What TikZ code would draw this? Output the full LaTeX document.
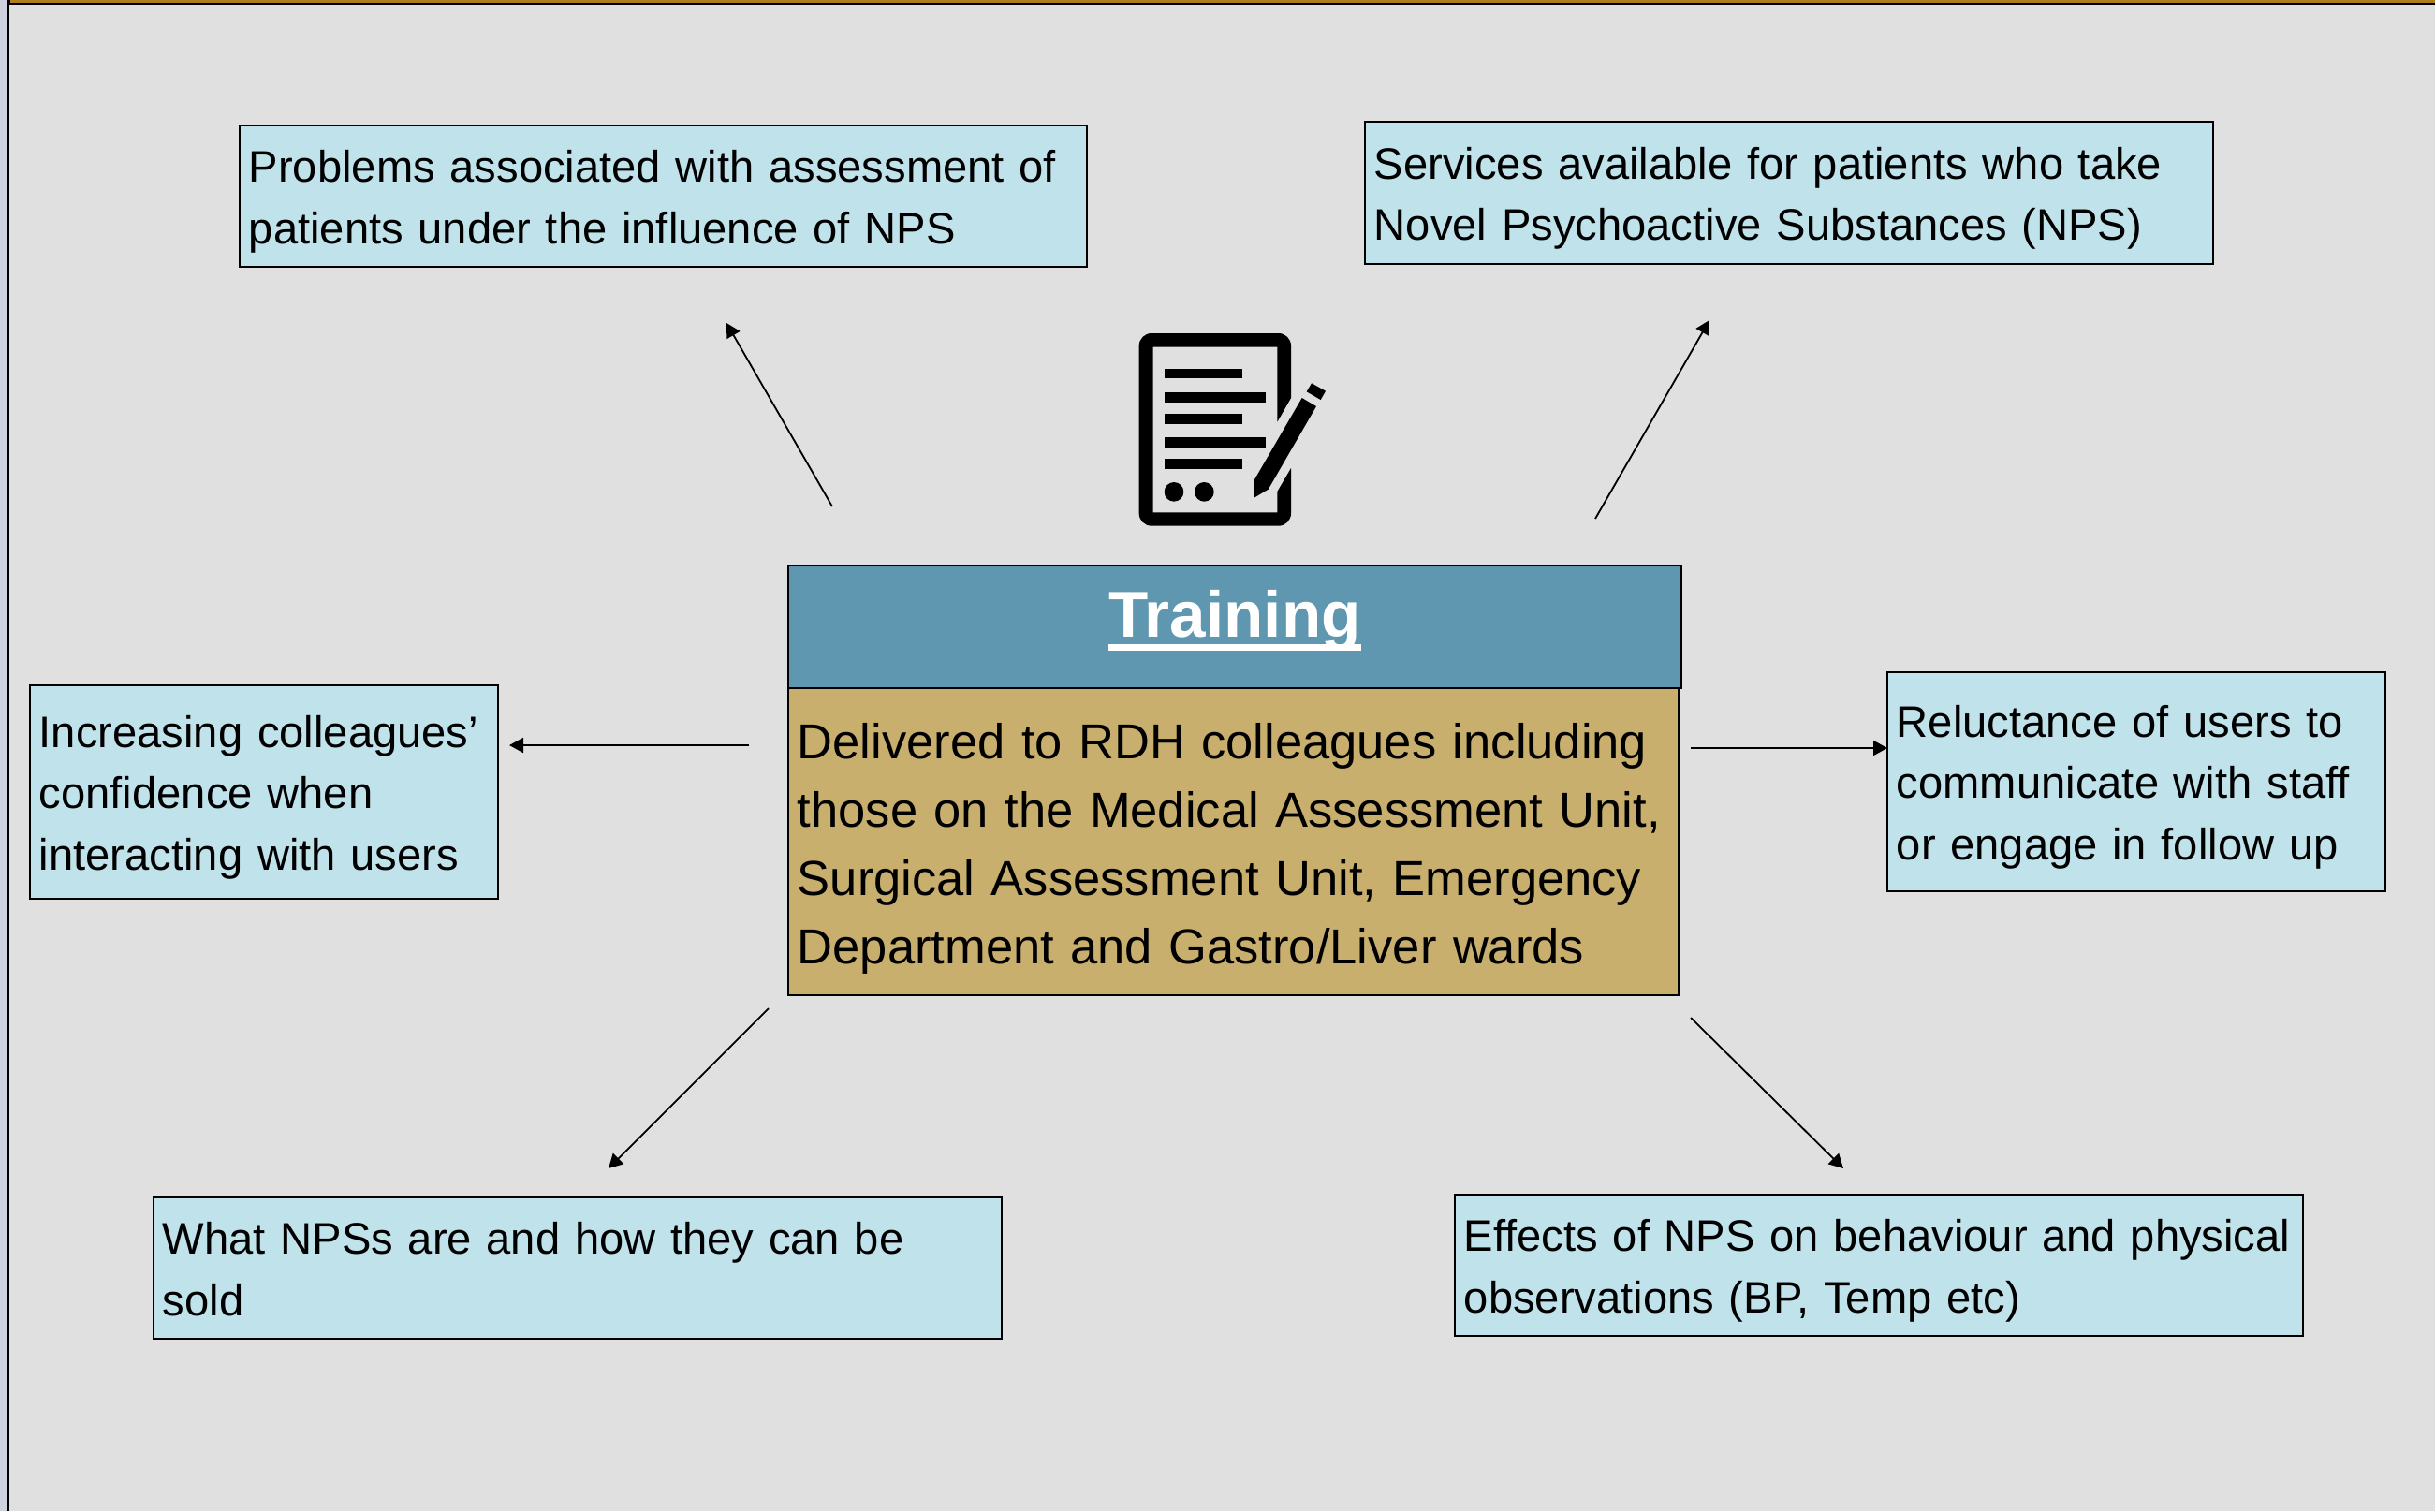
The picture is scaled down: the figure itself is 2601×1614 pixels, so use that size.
\documentclass[tikz,border=0pt]{standalone}
\usepackage{fontspec}
\setmainfont{Liberation Sans}
\usetikzlibrary{arrows.meta}
\definecolor{bgc}{HTML}{E0E0E0}
\definecolor{stripc}{HTML}{CDD2DE}
\definecolor{orangec}{HTML}{B07D1E}
\definecolor{boxc}{HTML}{C0E2EB}
\definecolor{headc}{HTML}{5E97AF}
\definecolor{bodyc}{HTML}{C8AF6E}
\newcommand{\thickul}[1]{\setbox0=\hbox{#1}\rlap{\copy0}\rule[-7.5pt]{\wd0}{3.5pt}}
\newcommand{\tfirst}{\rule{0pt}{23.2pt}}
\newcommand{\tlast}{\rule[-5.4pt]{0pt}{5.4pt}}
\newcommand{\bfirst}{\rule{0pt}{26.4pt}}
\newcommand{\blast}{\rule[-5.5pt]{0pt}{5.5pt}}
\tikzset{
  basebox/.style={draw=black,line width=1.45pt,anchor=north west,outer sep=0pt,inner xsep=4.9pt,inner ysep=0pt,align=left},
  topicbox/.style={basebox,fill=boxc,font=\fontsize{23.58}{32.75}\selectfont},
  bodybox/.style={basebox,fill=bodyc,font=\fontsize{26.25}{36.6}\selectfont},
  headbox/.style={basebox,fill=headc,text=white,align=center,font=\fontsize{34.6}{40}\selectfont\bfseries},
  arrowline/.style={draw=black,line width=0.9pt,-{Triangle[length=7.5pt,width=8pt]}},
  iconfill/.style={fill=black,draw=none}
}
\begin{document}
\begin{tikzpicture}[x=0.5pt,y=-0.5pt]
\useasboundingbox (0,0) rectangle (2601,1614);
% page background and edges
\fill[bgc] (0,0) rectangle (2601,1614);
\fill[stripc] (0,0) rectangle (7,1614);
\fill[black] (7,0) rectangle (10,1614);
\fill[black] (7,0) rectangle (2601,5);
\fill[orangec] (11,0) rectangle (2601,3);
% header and body
\node[bodybox,minimum width=475.5pt,minimum height=164pt,text width=465.7pt] (body) at (842,735)
  {\bfirst Delivered to RDH colleagues including\\those on the Medical Assessment Unit,\\Surgical Assessment Unit, Emergency\\\blast Department and Gastro/Liver wards};
\node[headbox,minimum width=477pt,minimum height=65.5pt,text width=467pt] (head) at (842,604)
  {\smash{\raisebox{-5.25pt}{\thickul{Training}}}};
% topic boxes
\node[topicbox,minimum width=452.5pt,minimum height=75.5pt,text width=442.7pt] (tl) at (256,134)
  {\tfirst Problems associated with assessment of\\\tlast patients under the influence of NPS};
\node[topicbox,minimum width=453pt,minimum height=76pt,text width=443.2pt] (tr) at (1458,130)
  {\tfirst Services available for patients who take\\\tlast Novel Psychoactive Substances (NPS)};
\node[topicbox,minimum width=250pt,minimum height=114pt,text width=240.2pt] (lf) at (32,732)
  {\tfirst Increasing colleagues’\\confidence when\\\tlast interacting with users};
\node[topicbox,minimum width=266pt,minimum height=117pt,text width=256.2pt] (rt) at (2016,718)
  {\tfirst Reluctance of users to\\communicate with staff\\\tlast or engage in follow up};
\node[topicbox,minimum width=453pt,minimum height=75.5pt,text width=443.2pt] (bl) at (164,1279)
  {\tfirst What NPSs are and how they can be\\\tlast sold};
\node[topicbox,minimum width=453pt,minimum height=75.5pt,text width=443.2pt] (br) at (1554,1276)
  {\tfirst Effects of NPS on behaviour and physical\\\tlast observations (BP, Temp etc)};
% connector ends
\coordinate (atl0) at (889,541);  \coordinate (atl1) at (776,345);
\coordinate (atr0) at (1704,554); \coordinate (atr1) at (1826,342);
\coordinate (alf0) at (800,796);  \coordinate (alf1) at (544,796);
\coordinate (art0) at (1806,799); \coordinate (art1) at (2016,799);
\coordinate (abl0) at (821,1077); \coordinate (abl1) at (650,1248);
\coordinate (abr0) at (1806,1087);\coordinate (abr1) at (1969,1248);
\draw[arrowline] (atl0) -- (atl1);
\draw[arrowline] (atr0) -- (atr1);
\draw[arrowline] (alf0) -- (alf1);
\draw[arrowline] (art0) -- (art1);
\draw[arrowline] (abl0) -- (abl1);
\draw[arrowline] (abr0) -- (abr1);
% icon
\begin{scope}[shift={(1180,330)},x=0.16667pt,y=-0.16667pt]
\fill[iconfill] (597,285) -- (597,118) arc[start angle=0,end angle=90,x radius=40,y radius=-40]
  -- (150,78) arc[start angle=90,end angle=180,x radius=40,y radius=-40]
  -- (110,655) arc[start angle=180,end angle=270,x radius=40,y radius=-40]
  -- (557,695) arc[start angle=270,end angle=360,x radius=40,y radius=-40]
  -- (597,510) -- (553,585) -- (553,652) -- (155,652) -- (155,122) -- (553,122) -- (553,362) -- cycle;
\fill[iconfill] (193,191) rectangle (440,223);
\fill[iconfill] (193,267) rectangle (515,299);
\fill[iconfill] (193,337) rectangle (440,368);
\fill[iconfill] (193,412) rectangle (515,443);
\fill[iconfill] (193,481) rectangle (440,513);
\fill[iconfill] (222,586) circle[radius=31];
\fill[iconfill] (319,586) circle[radius=31];
\fill[iconfill] (632,285) -- (678,312) -- (524,578) -- (477,606) -- (477,552) -- cycle;
\fill[iconfill] (663,238) -- (708,263) -- (692,291) -- (647,265) -- cycle;
\end{scope}
\end{tikzpicture}
\end{document}
